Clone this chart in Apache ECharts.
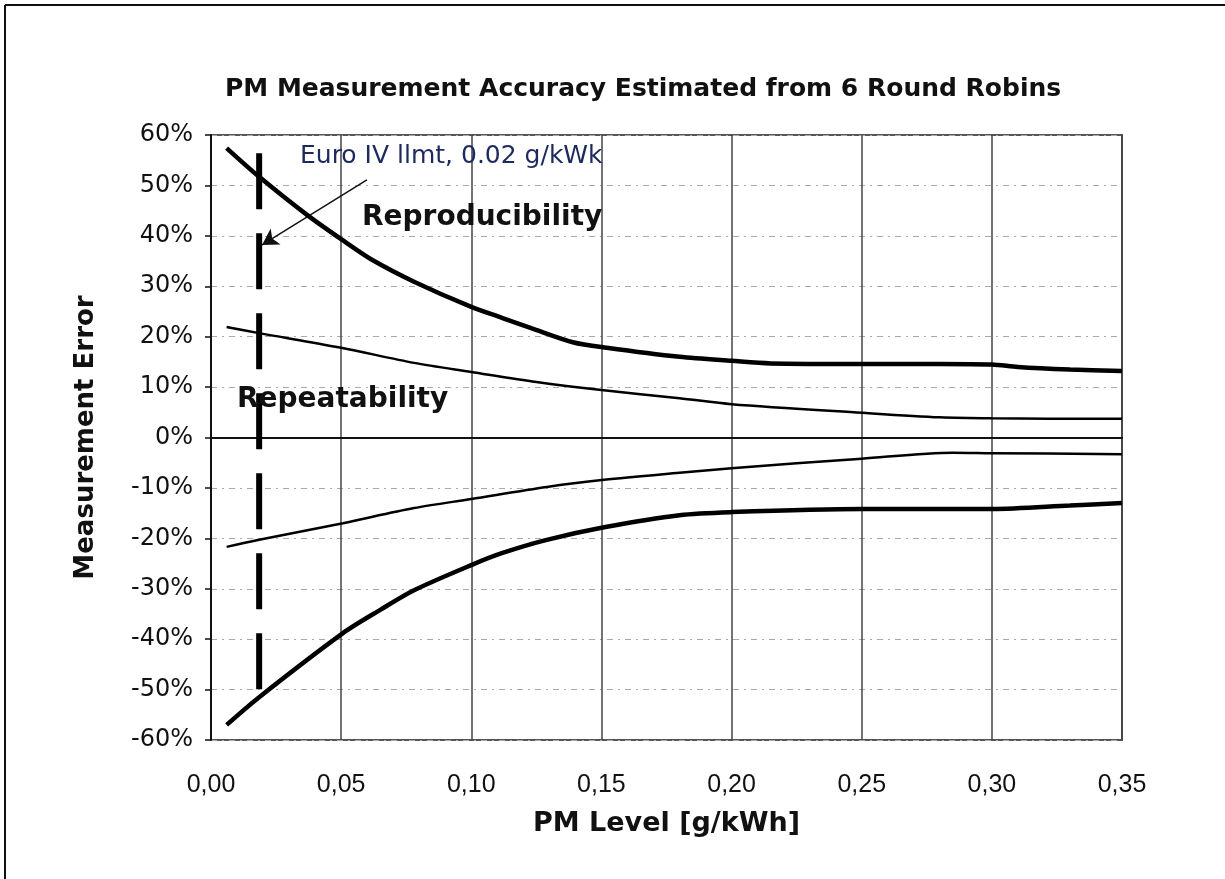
<!DOCTYPE html>
<html>
<head>
<meta charset="utf-8">
<script src="https://cdn.jsdelivr.net/npm/echarts@6/dist/echarts.min.js"></script>
<style>
html,body{margin:0;padding:0;background:#fff;}
#chart{width:1225px;height:879px;}
</style>
</head>
<body>
<div id="chart"></div>
<script>
// ---- data ----
const xTicks = [0, 0.05, 0.10, 0.15, 0.20, 0.25, 0.30, 0.35];
const yTicks = [-60, -50, -40, -30, -20, -10, 0, 10, 20, 30, 40, 50, 60];

const reproUpperX = [0.006, 0.0185, 0.037, 0.0515, 0.062, 0.078, 0.10, 0.112, 0.123, 0.139, 0.152, 0.18, 0.20, 0.215, 0.25, 0.28, 0.30, 0.31, 0.33, 0.35];
const reproUpperY = [57.4, 51.7, 44.1, 38.8, 35.2, 30.9, 25.9, 23.7, 21.7, 18.9, 17.8, 16.0, 15.2, 14.7, 14.6, 14.6, 14.5, 14.0, 13.5, 13.2];

const repeatUpperX = [0.006, 0.0185, 0.05, 0.078, 0.10, 0.125, 0.15, 0.18, 0.20, 0.25, 0.28, 0.30, 0.35];
const repeatUpperY = [21.9, 20.7, 17.8, 14.8, 13.0, 11.0, 9.4, 7.8, 6.6, 4.9, 4.0, 3.8, 3.7];

const repeatLowerX = [0.006, 0.0185, 0.0507, 0.078, 0.10, 0.129, 0.151, 0.18, 0.20, 0.25, 0.285, 0.30, 0.35];
const repeatLowerY = [-21.7, -20.3, -17.0, -14.0, -12.2, -9.8, -8.4, -7.0, -6.1, -4.2, -3.0, -3.1, -3.3];

const reproLowerX = [0.006, 0.0185, 0.0507, 0.065, 0.078, 0.10, 0.112, 0.129, 0.151, 0.18, 0.20, 0.25, 0.30, 0.33, 0.35];
const reproLowerY = [-57.0, -51.5, -38.8, -34.2, -30.3, -25.3, -22.9, -20.3, -17.8, -15.4, -14.8, -14.2, -14.2, -13.5, -13.0];

const limitX = [0.0185, 0.0185];
const limitY = [56.4, -51.5];

const arrowFrom = [0.0599, 51.1];
const arrowTo = [0.0196, 38.2];

const titleText = 'PM Measurement Accuracy Estimated from 6 Round Robins';
const xName = 'PM Level [g/kWh]';
const yName = 'Measurement Error';
const limitLabel = 'Euro IV llmt, 0.02 g/kWk';
const reproLabel = 'Reproducibility';
const repeatLabel = 'Repeatability';

function zip(xs, ys){ return xs.map((x,i)=>[x, ys[i]]); }

const chart = echarts.init(document.getElementById('chart'), null, {renderer:'canvas'});

const boldFont = 'DejaVu Sans';
const regFont = 'Liberation Sans';

const option = {
  backgroundColor: '#fff',
  animation: false,
  title: {
    text: titleText,
    left: 220, top: 72,
    textStyle: {fontFamily: boldFont, fontWeight: 'bold', fontSize: 25, color: '#111'}
  },
  grid: {left: 211, right: 103, top: 135, bottom: 139, show: true, borderColor: '#555', borderWidth: 2, backgroundColor: 'transparent'},
  xAxis: {
    type: 'value', min: 0, max: 0.35, interval: 0.05,
    name: xName, nameLocation: 'middle', nameGap: 70,
    nameTextStyle: {fontFamily: boldFont, fontWeight: 'bold', fontSize: 27, color: '#111'},
    axisLine: {show: true, lineStyle: {color: '#111', width: 2}},
    axisTick: {show: false},
    axisLabel: {margin: 33, fontFamily: regFont, fontSize: 25, color: '#111',
      formatter: v => v.toFixed(2).replace('.', ',')},
    splitLine: {show: true, lineStyle: {color: '#444', width: 1.5}}
  },
  yAxis: {
    type: 'value', min: -60, max: 60, interval: 10,
    name: yName, nameLocation: 'middle', nameGap: 112, nameRotate: 90,
    nameTextStyle: {fontFamily: boldFont, fontWeight: 'bold', fontSize: 26, color: '#111'},
    axisLine: {show: true, lineStyle: {color: '#111', width: 2}},
    axisTick: {show: true, length: 6, lineStyle: {color: '#111', width: 1.5}},
    axisLabel: {margin: 18, fontFamily: 'DejaVu Sans', fontSize: 24, color: '#111',
      formatter: v => v + '%'},
    splitLine: {show: true, lineStyle: {color: '#aaa', width: 1, type: [6, 5, 2, 5]}}
  },
  series: [
    {
      type: 'line', data: zip(reproUpperX, reproUpperY), smooth: 0.3, symbol: 'none',
      lineStyle: {color: '#000', width: 4.5}, z: 5,
      markLine: {
        silent: true, symbol: 'none', label: {show: false},
        lineStyle: {color: '#111', width: 2, type: 'solid'},
        data: [{yAxis: 0}]
      }
    },
    {
      type: 'line', data: zip(repeatUpperX, repeatUpperY), smooth: 0.3, symbol: 'none',
      lineStyle: {color: '#000', width: 2.5}, z: 5
    },
    {
      type: 'line', data: zip(repeatLowerX, repeatLowerY), smooth: 0.3, symbol: 'none',
      lineStyle: {color: '#000', width: 2.5}, z: 5
    },
    {
      type: 'line', data: zip(reproLowerX, reproLowerY), smooth: 0.3, symbol: 'none',
      lineStyle: {color: '#000', width: 4.5}, z: 5
    },
    {
      type: 'line', data: zip(limitX, limitY), symbol: 'none',
      lineStyle: {color: '#000', width: 6, type: [56, 24], cap: 'butt'}, z: 6,
      markLine: {
        silent: true, symbol: ['none', 'arrow'], symbolSize: [14, 16], label: {show: false},
        lineStyle: {color: '#111', width: 1.5, type: 'solid'},
        data: [[{coord: arrowFrom}, {coord: arrowTo}]]
      }
    }
  ],
  graphic: [
    {type: 'line', shape: {x1: 5, y1: 5, x2: 1225, y2: 5}, style: {stroke: '#111', lineWidth: 2}},
    {type: 'line', shape: {x1: 5, y1: 5, x2: 5, y2: 879}, style: {stroke: '#111', lineWidth: 2}},
    {type: 'text', left: 300, top: 144, z: 10,
      style: {text: limitLabel, font: '25px "DejaVu Sans"', fill: '#1d2a5e'}},
    {type: 'text', left: 362, top: 204, z: 10,
      style: {text: reproLabel, font: 'bold 28px "DejaVu Sans"', fill: '#111'}},
    {type: 'text', left: 237, top: 386, z: 10,
      style: {text: repeatLabel, font: 'bold 28px "DejaVu Sans"', fill: '#111'}}
  ]
};
chart.setOption(option);
</script>
</body>
</html>
